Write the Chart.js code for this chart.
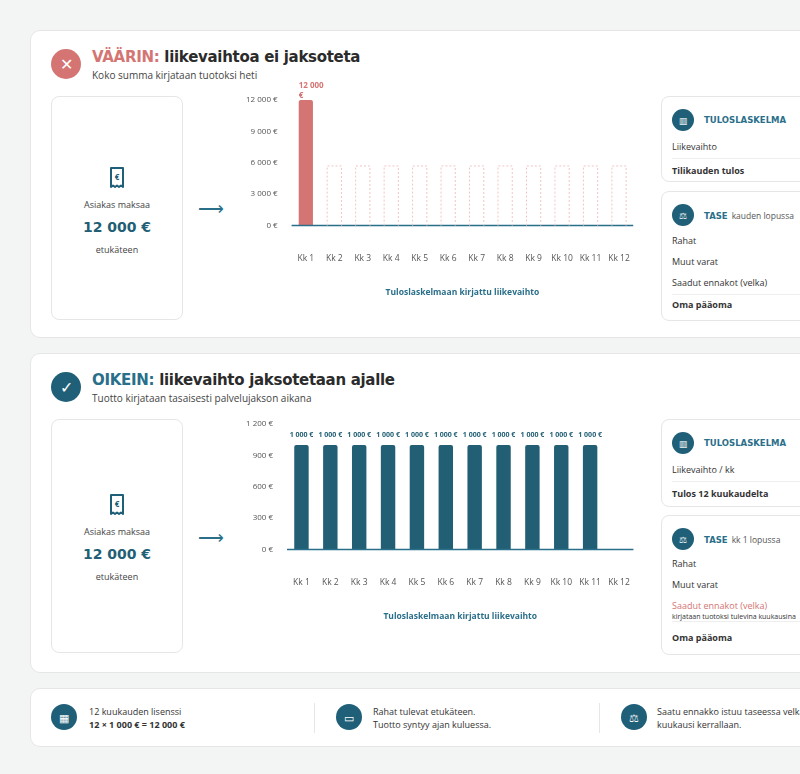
<!DOCTYPE html>
<html><head><meta charset="utf-8">
<script src="https://cdn.jsdelivr.net/npm/chart.js@4"></script>
<style>
body{margin:0;background:#f3f4f4;font-family:"Open Sans",sans-serif;color:#333;width:800px;height:774px;overflow:hidden;position:relative}
.card{position:absolute;left:30px;width:790px;background:#fff;border:1px solid #e6e6e6;border-radius:10px}
.abs{position:absolute}
.circ{position:absolute;border-radius:50%;color:#fff;display:flex;align-items:center;justify-content:center}
h2{position:absolute;margin:0;font-family:"DejaVu Sans",sans-serif;font-size:15px;font-weight:bold;letter-spacing:-0.3px;color:#2b2b2b}
.sub{position:absolute;font-size:10px;color:#444}
.pay{position:absolute;left:20px;width:130px;border:1px solid #e6e6e6;border-radius:8px;text-align:center}
.pay .a{font-size:9px;color:#444}
.pay .b{font-family:"DejaVu Sans";font-weight:bold;font-size:14px;color:#235f74;margin:8px 0}
.box{position:absolute;left:630px;width:170px;border:1px solid #e6e6e6;border-radius:8px}
.ic{width:22px;height:22px;background:#1f5f78;left:10px;top:12px;font-size:9px}
.hd{position:absolute;left:42px;top:18px;font-size:8.5px;font-weight:bold;color:#2a6f8a;font-family:"DejaVu Sans"}
.hd span{color:#555;font-weight:normal;font-family:"Open Sans";margin-left:4px}
.row{position:absolute;left:10px;width:160px;font-size:9px;color:#333}
.bold{font-weight:bold}
.line{border-bottom:1px solid #eee}
canvas{position:absolute}
</style></head><body>

<div class="card" style="top:30px;height:306px">
  <div class="circ" style="left:20px;top:18px;width:30px;height:30px;background:#d47573;font-size:16px">✕</div>
  <h2 style="left:61px;top:17px"><span style="color:#d47573">VÄÄRIN:</span> liikevaihtoa ei jaksoteta</h2>
  <div class="sub" style="left:61px;top:37px">Koko summa kirjataan tuotoksi heti</div>
  <div class="pay" style="top:65px;height:222px"><svg style="margin-top:70px" width="16" height="22" viewBox="0 0 16 22"><path d="M2 1h12v19l-2-1.5-2 1.5-2-1.5-2 1.5-2-1.5-2 1.5z" fill="none" stroke="#1f5f78" stroke-width="2" stroke-linejoin="round"/><text x="8" y="13" font-size="8" font-weight="bold" fill="#1f5f78" text-anchor="middle">€</text></svg><div class="a" style="margin-top:4px">Asiakas maksaa</div><div class="b">12 000 €</div><div class="a">etukäteen</div></div>
  <div class="abs" style="left:167px;top:165px;color:#2a6f8a;font-size:18px">⟶</div>
  <div class="box" style="top:65px;height:84px">
    <div class="circ ic">▥</div><div class="hd">TULOSLASKELMA</div>
    <div class="row line" style="top:43px;height:18px">Liikevaihto</div>
    <div class="row bold" style="top:67px">Tilikauden tulos</div>
  </div>
  <div class="box" style="top:160px;height:128px">
    <div class="circ ic">⚖</div><div class="hd">TASE<span>kauden lopussa</span></div>
    <div class="row" style="top:42px">Rahat</div>
    <div class="row" style="top:63px">Muut varat</div>
    <div class="row line" style="top:84px;height:18px">Saadut ennakot (velka)</div>
    <div class="row bold" style="top:106px">Oma pääoma</div>
  </div>
</div>

<div class="card" style="top:353px;height:318px">
  <div class="circ" style="left:20px;top:18px;width:30px;height:30px;background:#1f5f78;font-size:16px">✓</div>
  <h2 style="left:61px;top:17px"><span style="color:#2a6f8a">OIKEIN:</span> liikevaihto jaksotetaan ajalle</h2>
  <div class="sub" style="left:61px;top:37px">Tuotto kirjataan tasaisesti palvelujakson aikana</div>
  <div class="pay" style="top:65px;height:232px"><svg style="margin-top:74px" width="16" height="22" viewBox="0 0 16 22"><path d="M2 1h12v19l-2-1.5-2 1.5-2-1.5-2 1.5-2-1.5-2 1.5z" fill="none" stroke="#1f5f78" stroke-width="2" stroke-linejoin="round"/><text x="8" y="13" font-size="8" font-weight="bold" fill="#1f5f78" text-anchor="middle">€</text></svg><div class="a" style="margin-top:4px">Asiakas maksaa</div><div class="b">12 000 €</div><div class="a">etukäteen</div></div>
  <div class="abs" style="left:167px;top:171px;color:#2a6f8a;font-size:18px">⟶</div>
  <div class="box" style="top:65px;height:86px">
    <div class="circ ic">▥</div><div class="hd">TULOSLASKELMA</div>
    <div class="row line" style="top:43px;height:18px">Liikevaihto / kk</div>
    <div class="row bold" style="top:67px">Tulos 12 kuukaudelta</div>
  </div>
  <div class="box" style="top:161px;height:138px">
    <div class="circ ic">⚖</div><div class="hd">TASE<span>kk 1 lopussa</span></div>
    <div class="row" style="top:41px">Rahat</div>
    <div class="row" style="top:62px">Muut varat</div>
    <div class="row line" style="top:83px;height:22px;color:#d47573">Saadut ennakot (velka)<div style="font-size:7px;color:#333">kirjataan tuotoksi tulevina kuukausina</div></div>
    <div class="row bold" style="top:115px">Oma pääoma</div>
  </div>
</div>

<div class="card" style="top:688px;height:57px">
  <div class="circ" style="left:20px;top:15px;width:26px;height:26px;background:#1f5f78;font-size:11px">▦</div>
  <div class="abs" style="left:58px;top:16px;font-size:9px;line-height:13px">12 kuukauden lisenssi<br><b>12 × 1 000 € = 12 000 €</b></div>
  <div class="abs" style="left:283px;top:14px;height:30px;border-left:1px solid #e6e6e6"></div>
  <div class="circ" style="left:305px;top:15px;width:26px;height:26px;background:#1f5f78;font-size:11px">▭</div>
  <div class="abs" style="left:342px;top:16px;font-size:9px;line-height:13px">Rahat tulevat etukäteen.<br>Tuotto syntyy ajan kuluessa.</div>
  <div class="abs" style="left:568px;top:14px;height:30px;border-left:1px solid #e6e6e6"></div>
  <div class="circ" style="left:590px;top:15px;width:26px;height:26px;background:#1f5f78;font-size:11px">⚖</div>
  <div class="abs" style="left:626px;top:16px;font-size:9px;line-height:13px;white-space:nowrap">Saatu ennakko istuu taseessa velkana<br>kuukausi kerrallaan.</div>
</div>

<canvas id="c1" class="abs" style="left:240px;top:78px;width:410px;height:220px"></canvas>
<canvas id="c2" class="abs" style="left:240px;top:402px;width:410px;height:220px"></canvas>

<script>
const months = ["Kk 1","Kk 2","Kk 3","Kk 4","Kk 5","Kk 6","Kk 7","Kk 8","Kk 9","Kk 10","Kk 11","Kk 12"];
const wrongValues = [12000,null,null,null,null,null,null,null,null,null,null,null];
const ghostValues = [null,5700,5700,5700,5700,5700,5700,5700,5700,5700,5700,5700];
const rightValues = [1000,1000,1000,1000,1000,1000,1000,1000,1000,1000,1000,null];
const wrongTicks = [0,3000,6000,9000,12000];
const rightTicks = [0,300,600,900,1200];

const RED = "#d47573", TEAL = "#235f74";
const fmt = v => v.toLocaleString("fi-FI").replace(/\s/g," ") + " €";

const decor = {
  id: "decor",
  afterDatasetsDraw(chart, args, opts) {
    const ctx = chart.ctx, y = chart.scales.y, x = chart.scales.x;
    ctx.save();
    ctx.strokeStyle = "#2a6f8a"; ctx.lineWidth = 1.5;
    ctx.beginPath(); ctx.moveTo(x.left, y.getPixelForValue(0)); ctx.lineTo(x.right, y.getPixelForValue(0)); ctx.stroke();
    chart.data.datasets.forEach((ds, i) => {
      const meta = chart.getDatasetMeta(i);
      meta.data.forEach((bar, j) => {
        if (ds.data[j] == null) return;
        if (ds.ghost) {
          ctx.strokeStyle = "#f2c4c4"; ctx.lineWidth = 1; ctx.setLineDash([2,2]);
          ctx.beginPath();
          const l = bar.x - bar.width/2, r = bar.x + bar.width/2;
          ctx.moveTo(l, bar.base); ctx.lineTo(l, bar.y); ctx.lineTo(r, bar.y); ctx.lineTo(r, bar.base);
          ctx.stroke();
          ctx.setLineDash([]);
        } else if (opts.wrap) {
          ctx.fillStyle = RED; ctx.font = "bold 8px 'Open Sans'"; ctx.textAlign = "left";
          ctx.fillText("12 000", bar.x - bar.width/2, y.top - 12);
          ctx.fillText("€", bar.x - bar.width/2, y.top - 2);
        } else {
          ctx.fillStyle = TEAL; ctx.font = "bold 7px 'Open Sans'"; ctx.textAlign = "center";
          ctx.fillText(fmt(ds.data[j]), bar.x, bar.y - 8);
        }
      });
    });
    ctx.restore();
  }
};

function makeChart(id, datasets, ticks, wrap) {
  new Chart(document.getElementById(id), {
    type: "bar",
    data: { labels: months, datasets },
    plugins: [decor],
    options: {
      responsive: false, animation: false,
      layout: { padding: { top: 22, right: 5 } },
      plugins: { legend: { display: false }, tooltip: { enabled: false }, decor: { wrap } },
      scales: {
        x: { grid: { display: false }, border: { display: false },
             ticks: { color: "#555", font: { size: 8.5, family: "Open Sans" }, padding: 20 },
             title: { display: true, text: "Tuloslaskelmaan kirjattu liikevaihto", color: "#2a6f8a", font: { size: 8.5, weight: "bold", family: "Open Sans" }, padding: { top: 4, bottom: 0 } } },
        y: { min: 0, max: ticks[ticks.length-1], grid: { display: false }, border: { display: false },
             afterBuildTicks: s => { s.ticks = ticks.map(v => ({ value: v })); },
             ticks: { color: "#555", font: { size: 8, family: "Open Sans" }, padding: 6, callback: v => fmt(v) } }
      }
    }
  });
}

const c1 = document.getElementById("c1"); c1.width = 410; c1.height = 220;
const c2 = document.getElementById("c2"); c2.width = 410; c2.height = 220;

makeChart("c1", [
  { data: wrongValues, backgroundColor: RED, barPercentage: 0.5, categoryPercentage: 1, grouped: false, borderRadius: 2 },
  { data: ghostValues, ghost: true, backgroundColor: "rgba(0,0,0,0)", barPercentage: 0.5, categoryPercentage: 1, grouped: false }
], wrongTicks, true);

makeChart("c2", [
  { data: rightValues, backgroundColor: TEAL, barPercentage: 0.5, categoryPercentage: 1, borderRadius: 2 }
], rightTicks, false);
</script>
</body></html>
